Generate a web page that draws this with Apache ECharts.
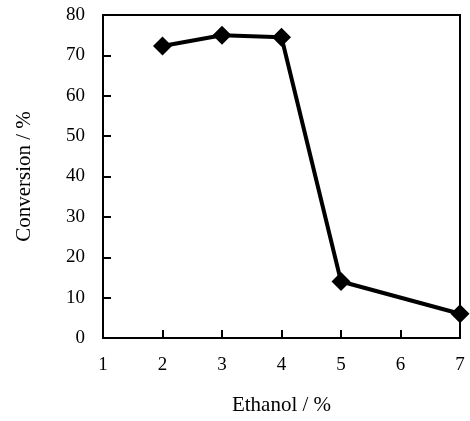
<!DOCTYPE html>
<html>
<head>
<meta charset="utf-8">
<script src="https://cdn.jsdelivr.net/npm/echarts@6/dist/echarts.min.js"></script>
<style>html,body{margin:0;padding:0;background:#fff;}#c{width:470px;height:421px;}</style>
</head>
<body>
<div id="c"></div>
<script>
const ethanol = [2, 3, 4, 5, 7];
const conversion = [72.3, 75.0, 74.5, 14.0, 6.0];
const xName = 'Ethanol / %';
const yName = 'Conversion / %';

const chart = echarts.init(document.getElementById('c'), null, {renderer: 'canvas'});
const font = 'Liberation Serif';
chart.setOption({
  backgroundColor: '#fff',
  animation: false,
  grid: {left: 103, right: 10, top: 15, bottom: 78, show: true, borderColor: '#000', borderWidth: 2, backgroundColor: 'transparent'},
  xAxis: {
    type: 'value', min: 1, max: 7, interval: 1,
    name: xName, nameLocation: 'middle', nameGap: 57,
    nameTextStyle: {fontFamily: font, fontSize: 21, color: '#000'},
    axisLine: {show: true, lineStyle: {color: '#000', width: 2}},
    axisTick: {show: true, inside: true, length: 8, lineStyle: {color: '#000', width: 2}},
    axisLabel: {fontFamily: font, fontSize: 19, color: '#000', margin: 18},
    splitLine: {show: false}
  },
  yAxis: {
    type: 'value', min: 0, max: 80, interval: 10,
    name: yName, nameLocation: 'middle', nameGap: 68,
    nameTextStyle: {fontFamily: font, fontSize: 21, color: '#000'},
    axisLine: {show: true, lineStyle: {color: '#000', width: 2}},
    axisTick: {show: true, inside: true, length: 8, lineStyle: {color: '#000', width: 2}},
    axisLabel: {fontFamily: font, fontSize: 19, color: '#000', margin: 18},
    splitLine: {show: false}
  },
  series: [{
    type: 'line',
    data: ethanol.map((x, i) => [x, conversion[i]]),
    symbol: 'diamond', symbolSize: 19,
    lineStyle: {color: '#000', width: 4},
    itemStyle: {color: '#000'},
    clip: false
  }]
});
</script>
</body>
</html>
